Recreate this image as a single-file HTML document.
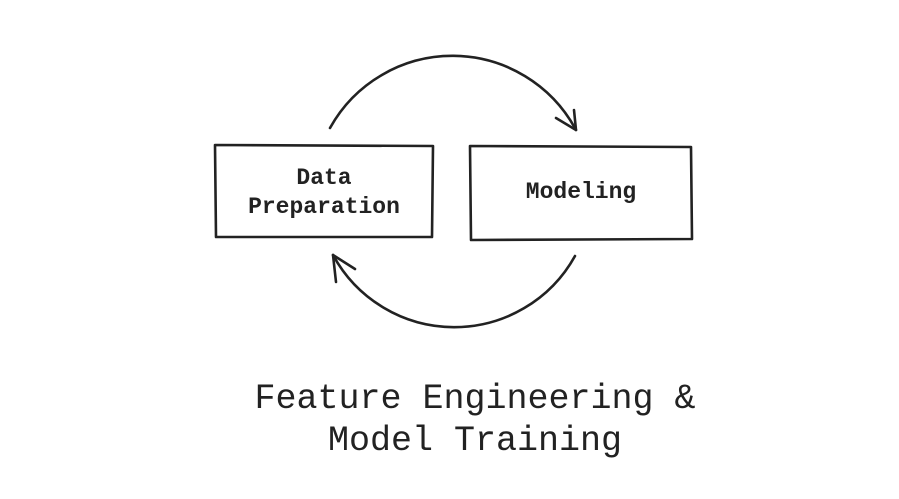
<!DOCTYPE html>
<html><head><style>
html,body{margin:0;padding:0;background:#fff;}
body{width:899px;height:499px;position:relative;overflow:hidden;font-family:"Liberation Mono",monospace;color:#222;}
.t{position:absolute;text-align:center;white-space:nowrap;}
</style></head><body>
<svg width="899" height="499" style="position:absolute;left:0;top:0" fill="none" stroke="#222" stroke-width="2.6" stroke-linecap="round" stroke-linejoin="round">
<path d="M215 145 L433 146 L432 237 L216 237 Z"/>
<path d="M470 146 L691 147 L692 239 L471 240 Z"/>
<path d="M330 128 A140 140 0 0 1 576 130"/>
<path d="M556 118 L576 130 L574 110"/>
<path d="M575 256 A138 138 0 0 1 333 255"/>
<path d="M333 255 L336 282 M333 255 L355 269"/>
</svg>
<div class="t" style="left:215px;width:218px;top:164px;font-size:23px;font-weight:bold;line-height:29px;">Data<br>Preparation</div>
<div class="t" style="left:470px;width:222px;top:178px;font-size:23px;font-weight:bold;line-height:29px;">Modeling</div>
<div class="t" style="left:200px;width:550px;top:378px;font-size:35px;line-height:42px;">Feature Engineering &amp;<br>Model Training</div>
</body></html>
